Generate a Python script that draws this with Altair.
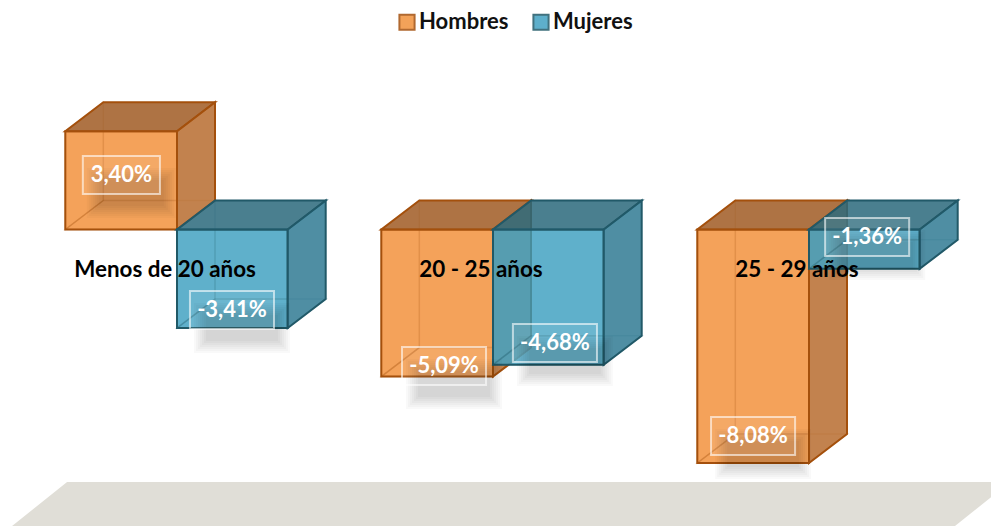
import altair as alt
import pandas as pd

groups = ["Menos de 20 años", "20 - 25 años", "25 - 29 años"]
series = ["Hombres", "Mujeres"]
hombres = [3.40, -5.09, -8.08]
mujeres = [-3.41, -4.68, -1.36]
texts_h = ["3,40%", "-5,09%", "-8,08%"]
texts_m = ["-3,41%", "-4,68%", "-1,36%"]

# label anchors, in axis units (group index / percent)
label_x_h = [-0.176, 0.845, 1.823]
label_x_m = [0.174, 1.196, 2.184]
label_y_h = [1.886, -4.72, -7.145]
label_y_m = [-2.785, -3.93, -0.26]
box_half_h = [0.122, 0.133, 0.133]
box_half_m = [0.133, 0.133, 0.133]

# axis-unit geometry
PX_X = 316.0
PX_Y = 28.9
BAR_W = {"Hombres": 111.7 / PX_X, "Mujeres": 110.7 / PX_X}
DEPTH_X = 38 / PX_X
DEPTH_Y = 29 / PX_Y
X_DOMAIN = [-169 / PX_X, 814 / PX_X]
Y_DOMAIN = [-297.5 / PX_Y, 221.5 / PX_Y]

FRONT = {"Hombres": "#F2923D", "Mujeres": "#43A2C2"}
EDGE = {"Hombres": "#A4500C", "Mujeres": "#215968"}
TOP = {"Hombres": "#A05A23", "Mujeres": "#2A687B"}
SIDE = {"Hombres": "#B76C2F", "Mujeres": "#307A93"}

x_scale = alt.Scale(domain=X_DOMAIN, nice=False, zero=False)
y_scale = alt.Scale(domain=Y_DOMAIN, nice=False, zero=False)
X = lambda f: alt.X(f, type="quantitative", scale=x_scale, axis=None)
X2 = lambda f: alt.X2(f)
Y = lambda f: alt.Y(f, type="quantitative", scale=y_scale, axis=None)
Y2 = lambda f: alt.Y2(f)

rows = []
for s, vals, texts, lx, ly, half in [
    ("Hombres", hombres, texts_h, label_x_h, label_y_h, box_half_h),
    ("Mujeres", mujeres, texts_m, label_x_m, label_y_m, box_half_m),
]:
    for i, g in enumerate(groups):
        x0 = i - BAR_W[s] if s == "Hombres" else i
        rows.append(dict(series=s, group=g, i=i, value=vals[i], text=texts[i],
                         x0=x0, x1=x0 + BAR_W[s],
                         top=max(vals[i], 0), bot=min(vals[i], 0),
                         lx=lx[i], ly=ly[i], half=half[i]))
bars = pd.DataFrame(rows)


def faces(df):
    top_rows, side_rows, bottom_rows, left_rows = [], [], [], []
    for r in df.itertuples():
        for k in (0, 1):
            top_rows.append(dict(series=r.series, i=r.i, y=r.top + k * DEPTH_Y,
                                 a=r.x0 + k * DEPTH_X, b=r.x1 + k * DEPTH_X))
            bottom_rows.append(dict(series=r.series, i=r.i, y=r.bot + k * DEPTH_Y,
                                    a=r.x0 + k * DEPTH_X, b=r.x1 + k * DEPTH_X))
            side_rows.append(dict(series=r.series, i=r.i, x=r.x1 + k * DEPTH_X,
                                  a=r.top + k * DEPTH_Y, b=r.bot + k * DEPTH_Y))
            left_rows.append(dict(series=r.series, i=r.i, x=r.x0 + k * DEPTH_X,
                                  a=r.top + k * DEPTH_Y, b=r.bot + k * DEPTH_Y))
    return map(pd.DataFrame, (top_rows, side_rows, bottom_rows, left_rows))


layers = []

# floor
floor = pd.DataFrame({"y": [-10.26, -8.74], "a": [-0.522, -0.348], "b": [2.462, 2.636]})
layers.append(
    alt.Chart(floor).mark_area(orient="horizontal", color="#E0DED7", clip=True)
    .encode(y=Y("y"), x=X("a"), x2=X2("b"))
)

legend_opts = dict(orient="none", legendX=388, legendY=3, direction="horizontal",
                   title=None, symbolType="square", symbolSize=230, symbolStrokeWidth=2,
                   symbolOpacity=0.85, labelFont="Lato", labelFontWeight="bold",
                   labelFontSize=22, labelColor="#111111", columnPadding=20,
                   labelOffset=1, labelLimit=200, padding=0)
fill_enc = alt.Fill("series:N", scale=alt.Scale(domain=series, range=[FRONT[s] for s in series]),
                    legend=alt.Legend(**legend_opts))
stroke_enc = alt.Stroke("series:N", scale=alt.Scale(domain=series, range=[EDGE[s] for s in series]),
                        legend=alt.Legend(**legend_opts))

for s in series:
    d = bars[bars.series == s]
    top_df, side_df, bottom_df, left_df = faces(d)
    edge = EDGE[s]
    # front face
    layers.append(
        alt.Chart(d).mark_rect(fillOpacity=0.85, strokeWidth=2)
        .encode(x=X("x0"), x2=X2("x1"), y=Y("top"), y2=Y2("bot"), fill=fill_enc, stroke=stroke_enc)
    )
    # inner edges seen through the box
    layers.append(
        alt.Chart(bottom_df).mark_area(orient="horizontal", fillOpacity=0.0, stroke=edge,
                                       strokeOpacity=0.22, strokeWidth=1.5)
        .encode(y=Y("y"), x=X("a"), x2=X2("b"), detail="i:N")
    )
    layers.append(
        alt.Chart(left_df).mark_area(fillOpacity=0.0, stroke=edge, strokeOpacity=0.22, strokeWidth=1.5)
        .encode(x=X("x"), y=Y("a"), y2=Y2("b"), detail="i:N")
    )
    # top and side faces
    layers.append(
        alt.Chart(top_df).mark_area(orient="horizontal", fill=TOP[s], fillOpacity=0.85, stroke=edge, strokeWidth=2)
        .encode(y=Y("y"), x=X("a"), x2=X2("b"), detail="i:N")
    )
    layers.append(
        alt.Chart(side_df).mark_area(fill=SIDE[s], fillOpacity=0.85, stroke=edge, strokeWidth=2)
        .encode(x=X("x"), y=Y("a"), y2=Y2("b"), detail="i:N")
    )

# soft shadows of the label boxes
for spread in [-6, -4, -2, 0, 2, 4, 6]:
    sh = bars.assign(
        a=bars.lx - bars.half + (10 - spread) / PX_X,
        b=bars.lx + bars.half + (10 + spread) / PX_X,
        c=bars.ly - 18 / PX_Y + (19 + spread) / PX_Y,
        e=bars.ly - 18 / PX_Y - (19 + spread) / PX_Y,
    )
    layers.append(
        alt.Chart(sh).mark_rect(color="#000000", opacity=0.024)
        .encode(x=X("a"), x2=X2("b"), y=Y("c"), y2=Y2("e"))
    )

# label boxes and texts
boxes = bars.assign(a=bars.lx - bars.half, b=bars.lx + bars.half,
                    c=bars.ly + 19 / PX_Y, e=bars.ly - 19 / PX_Y)
layers.append(
    alt.Chart(boxes).mark_rect(fill="#FFFFFF", fillOpacity=0.08, stroke="#FFFFFF",
                               strokeOpacity=0.6, strokeWidth=2)
    .encode(x=X("a"), x2=X2("b"), y=Y("c"), y2=Y2("e"))
)
layers.append(
    alt.Chart(bars).mark_text(color="#FFFFFF", font="Lato", fontWeight="bold", fontSize=22,
                              align="center", baseline="middle")
    .encode(x=X("lx"), y=Y("ly"), text="text:N")
)

# category labels
cats = pd.DataFrame({"i": list(range(len(groups))), "group": groups})
layers.append(
    alt.Chart(cats).mark_text(color="#000000", font="Lato", fontWeight="bold", fontSize=22.4,
                              align="center", baseline="middle", dx=-12)
    .transform_calculate(level="-1.41")
    .encode(x=X("i"), y=Y("level"), text="group:N")
)

chart = (
    alt.layer(*layers)
    .properties(width=983, height=519, padding=0, autosize=alt.AutoSizeParams(type="none"),
                background="#FFFFFF")
    .configure_view(stroke=None)
)
chart.save("out.html", embed_options={"renderer": "svg", "actions": False})
